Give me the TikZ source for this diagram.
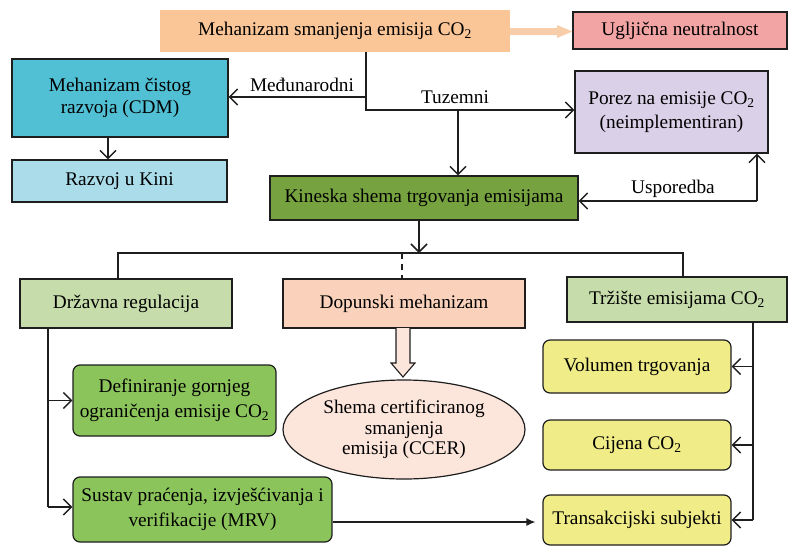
\documentclass[tikz,border=0pt]{standalone}
\usepackage{fontspec}
\setmainfont{Liberation Serif}
\usetikzlibrary{arrows.meta,shapes.geometric}
\newcommand\cotwo{CO\textsubscript{2}}
\definecolor{ctop}{RGB}{250,198,152}
\definecolor{cugl}{RGB}{242,164,164}
\definecolor{ccdm}{RGB}{82,192,212}
\definecolor{craz}{RGB}{170,220,234}
\definecolor{cpor}{RGB}{218,208,232}
\definecolor{ckin}{RGB}{118,162,64}
\definecolor{clg}{RGB}{198,220,170}
\definecolor{cdop}{RGB}{250,210,188}
\definecolor{cell}{RGB}{252,230,220}
\definecolor{cgr}{RGB}{140,196,92}
\definecolor{cyel}{RGB}{240,236,136}
\definecolor{cline}{RGB}{30,30,30}
\definecolor{cfat}{RGB}{248,206,170}
\tikzset{
  every node/.style={font=\fontsize{19.3}{22}\selectfont, inner sep=0pt, align=center},
  boxs/.style={draw=cline, line width=1.2pt, rectangle, minimum width=#1},
  rbox/.style={draw=cline, line width=1.2pt, rectangle, rounded corners=7pt, minimum width=#1},
  conn/.style={draw=cline, line width=1.3pt},
  barb/.style={conn, -{Straight Barb[length=8pt,width=16pt,line width=1.5pt]}},
  lbl/.style={fill=none}
}
\begin{document}
\begin{tikzpicture}[x=1pt,y=-1pt]
\useasboundingbox (0,0) rectangle (788,547);
% nodes
\node[fill=ctop, minimum width=350pt, minimum height=42pt] (top) at (335,31) {Mehanizam smanjenja emisija \cotwo};
\node[boxs=214pt, fill=cugl, minimum height=37pt] (ugl) at (680,30.5) {Ugljična neutralnost};
\node[boxs=216pt, fill=ccdm, minimum height=78pt] (cdm) at (120,98) {Mehanizam čistog\\razvoja (CDM)};
\node[boxs=215pt, fill=craz, minimum height=42pt] (raz) at (119.5,181) {Razvoj u Kini};
\node[boxs=193pt, fill=cpor, minimum height=82pt, font=\fontsize{19.3}{24}\selectfont] (por) at (671.5,112) {Porez na emisije \cotwo\\(neimplementiran)};
\node[boxs=308pt, fill=ckin, minimum height=44pt] (kin) at (424,198) {Kineska shema trgovanja emisijama};
\node[boxs=212pt, fill=clg, minimum height=49pt] (drz) at (126,303.5) {Državna regulacija};
\node[boxs=242pt, fill=cdop, minimum height=49pt] (dop) at (404,303.5) {Dopunski mehanizam};
\node[boxs=220pt, fill=clg, minimum height=45pt] (trz) at (677,299.5) {Tržište emisijama \cotwo};
\node[ellipse, draw=cline, line width=1.2pt, fill=cell, minimum width=242pt, minimum height=99pt, font=\fontsize{19.3}{20.5}\selectfont] (ccer) at (404,429.5) {Shema certificiranog\\smanjenja\\emisija (CCER)};
\node[rbox=203pt, fill=cgr, minimum height=71pt, font=\fontsize{19.3}{25}\selectfont] (def) at (174.5,400.5) {Definiranje gornjeg\\ograničenja emisije \cotwo};
\node[rbox=259pt, fill=cgr, minimum height=65pt, font=\fontsize{19.3}{25}\selectfont] (sus) at (202.5,509.5) {Sustav praćenja, izvješćivanja i\\verifikacije (MRV)};
\node[rbox=188pt, fill=cyel, minimum height=53pt] (vol) at (637,366.5) {Volumen trgovanja};
\node[rbox=188pt, fill=cyel, minimum height=50pt] (cij) at (637,445) {Cijena \cotwo};
\node[rbox=188pt, fill=cyel, minimum height=50pt] (tra) at (637,520) {Transakcijski subjekti};
% fat arrow top
\fill[cfat] (top.east |- 0,28) -- (557,28) -- (557,25) -- (ugl.west |- 0,31.5) -- (557,38) -- (557,35) -- (top.east |- 0,35) -- cycle;
% junctions
\coordinate (j1) at (366,97);
\coordinate (j2) at (366,110);
\coordinate (j3) at (458,110);
\draw[conn] (top.south -| j1) -- (j2) -- (j3);
\draw[barb] (j1) -- (j1 -| cdm.east);
\draw[barb] (j3) -- (j2 -| por.west);
\draw[barb] (j3) -- (j3 |- kin.north);
\node[lbl] (lmed) at (302,85) {Međunarodni};
\node[lbl] (ltuz) at (455,97) {Tuzemni};
\draw[barb] (cdm.south -| 108,0) -- (raz.north -| 108,0);
% usporedba
\coordinate (u1) at (757,201);
\draw[barb] (u1) -- (u1 -| kin.east);
\draw[barb] (u1) -- (u1 |- por.south);
\node[lbl] (lusp) at (673,189) {Usporedba};
% tree
\coordinate (h1) at (118,253);
\coordinate (h2) at (683,253);
\coordinate (h3) at (419,253);
\draw[barb] (h3 |- kin.south) -- (h3);
\draw[conn] (h1 |- drz.north) -- (h1) -- (h2) -- (h2 |- trz.north);
\draw[conn, dash pattern=on 6pt off 5pt] (402,253) -- (402,279.5);
% hollow arrow
\draw[draw=cline, line width=1.1pt, fill=cell] (396,328) -- (396,363) -- (391,363) -- (403,377) -- (415,363) -- (410,363) -- (410,328);
% left branch
\coordinate (l1) at (48,400.5);
\coordinate (l2) at (48,507);
\draw[conn] (l1 |- drz.south) -- (l2);
\draw[barb] (l1) -- (def.west);
\draw[barb] (l2) -- (l2 -| sus.west);
% right branch
\coordinate (r1) at (753,366.5);
\coordinate (r2) at (753,445);
\coordinate (r3) at (753,520);
\draw[conn] (r1 |- trz.south) -- (r3);
\draw[barb] (r1) -- (vol.east);
\draw[barb] (r2) -- (cij.east);
\draw[barb] (r3) -- (tra.east);
% MRV to transakcijski
\coordinate (m1) at (0,522);
\draw[conn, -{Latex[length=9pt,width=8pt]}] (m1 -| sus.east) -- ([xshift=-7pt]m1 -| tra.west);
\end{tikzpicture}
\end{document}
